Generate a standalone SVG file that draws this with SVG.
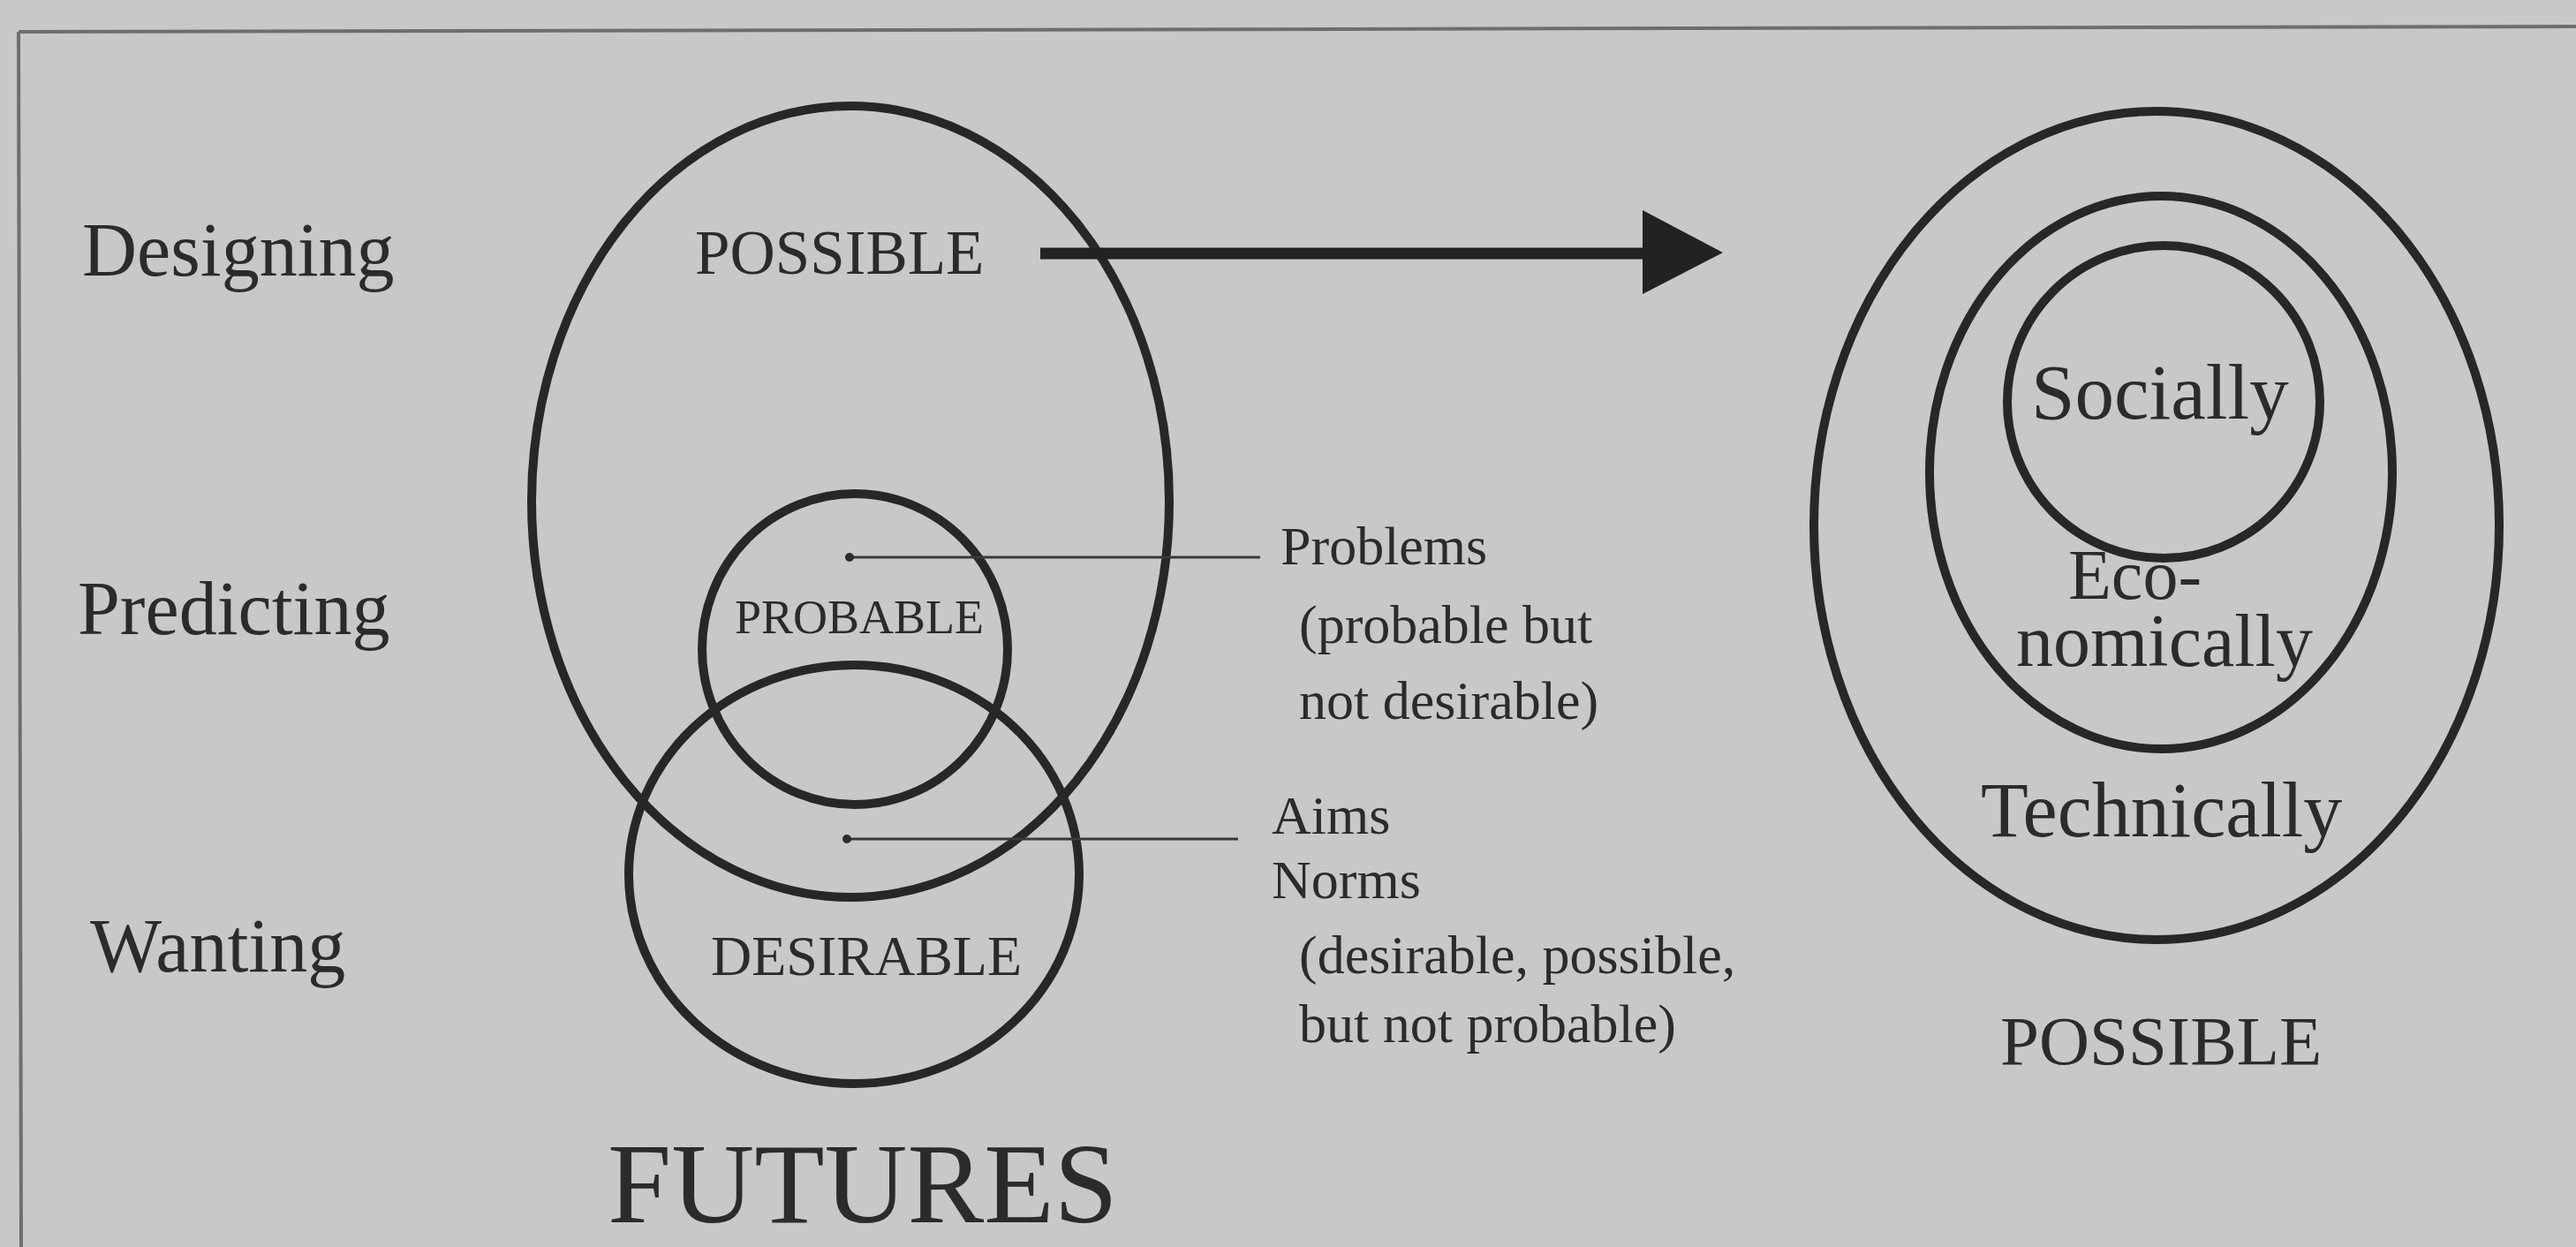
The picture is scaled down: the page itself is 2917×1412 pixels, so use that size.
<svg xmlns="http://www.w3.org/2000/svg" width="2917" height="1412" viewBox="0 0 2917 1412">
  <defs>
    <style>
      .bg { fill: #c8c8c7; }
      .frame { stroke: #6e6e6e; stroke-width: 4; fill: none; }
      .ring { fill: none; stroke: #272727; stroke-width: 10; }
      .lead { stroke: #3a3a3a; stroke-width: 3; fill: none; }
      .dot { fill: #2c2c2c; }
      text { font-family: "Liberation Serif", "Times New Roman", serif; fill: #2b2b2b; }
      .big { font-size: 86px; }
      .cap { font-size: 71px; }
      .small { font-size: 62px; }
    </style>
  </defs>
  <rect class="bg" x="0" y="0" width="2917" height="1412"/>
  <g id="frame">
    <line class="frame" x1="21" y1="36" x2="2917" y2="30"/>
    <line class="frame" x1="21" y1="36" x2="24" y2="1412"/>
  </g>

  <g id="activity-labels">
    <text class="big" x="93" y="312">Designing</text>
    <text class="big" x="88" y="718">Predicting</text>
    <text class="big" x="102" y="1100">Wanting</text>
  </g>

  <g id="node-possible">
    <ellipse class="ring" cx="963" cy="568" rx="361" ry="448"/>
    <text class="cap" x="787" y="310">POSSIBLE</text>
  </g>
  <g id="node-probable">
    <ellipse class="ring" cx="968" cy="735" rx="173" ry="176"/>
    <text x="832" y="717" font-size="54">PROBABLE</text>
  </g>
  <g id="node-desirable">
    <ellipse class="ring" cx="967" cy="990" rx="255" ry="237"/>
    <text x="805" y="1104" font-size="64">DESIRABLE</text>
  </g>
  <g id="title-futures">
    <text x="688" y="1384" font-size="130">FUTURES</text>
  </g>

  <g id="note-problems">
    <text class="small" x="1450" y="639">Problems</text>
    <text class="small" x="1471" y="728">(probable but</text>
    <text class="small" x="1471" y="814">not desirable)</text>
  </g>
  <g id="note-aims">
    <text class="small" x="1440" y="944">Aims</text>
    <text class="small" x="1440" y="1017">Norms</text>
    <text class="small" x="1471" y="1102">(desirable, possible,</text>
    <text class="small" x="1471" y="1180">but not probable)</text>
  </g>

  <g id="node-possible-right">
    <ellipse class="ring" cx="2442" cy="595" rx="388" ry="469"/>
    <text x="2265" y="1205" font-size="79">POSSIBLE</text>
  </g>
  <g id="node-technically">
    <ellipse class="ring" cx="2447" cy="535" rx="262" ry="313"/>
    <text x="2243" y="947" font-size="88">Technically</text>
  </g>
  <g id="node-economically">
    <text x="2342" y="678" font-size="80">Eco-</text>
    <text x="2283" y="754" font-size="84">nomically</text>
  </g>
  <g id="node-socially">
    <ellipse class="ring" cx="2450" cy="455" rx="177" ry="177"/>
    <text x="2300" y="474" font-size="89">Socially</text>
  </g>

  <g id="connectors">
    <line class="lead" x1="962" y1="631" x2="1427" y2="631"/>
    <circle class="dot" cx="962" cy="631" r="5"/>
    <line class="lead" x1="959" y1="950" x2="1402" y2="950"/>
    <circle class="dot" cx="959" cy="950" r="5"/>
    <line x1="1178" y1="287" x2="1862" y2="287" stroke="#222" stroke-width="13"/>
    <polygon points="1860,238 1951,286 1860,333" fill="#222"/>
  </g>
</svg>
